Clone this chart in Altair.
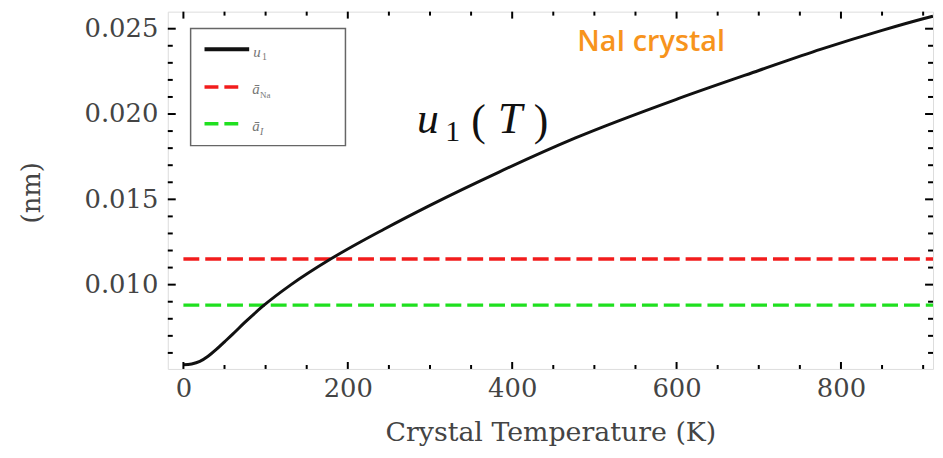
import altair as alt
import pandas as pd

# ---- data ----
temperature = [0, 10, 20, 30, 40, 50, 60, 75, 97, 131, 179, 244, 300, 384, 477, 602, 700, 776, 850, 900, 912]
u1_nm = [0.0053, 0.00535, 0.0055, 0.0058, 0.0062, 0.00665, 0.0071, 0.0078, 0.00875, 0.0100, 0.0115,
         0.01325, 0.01465, 0.0166, 0.0186, 0.0209, 0.02255, 0.0238, 0.0249, 0.02558, 0.02573]
ref_names = ["a_Na", "a_I"]
ref_values = [0.0115, 0.0088]
ref_colors = ["#f21c1c", "#1fe01f"]
ref_start = [0, 0]
ref_end = [912, 912]

x_major = [0, 200, 400, 600, 800]
x_minor = [50, 100, 150, 250, 300, 350, 450, 500, 550, 650, 700, 750, 850, 900]
y_major = [0.010, 0.015, 0.020, 0.025]
y_minor = [0.006, 0.007, 0.008, 0.009, 0.011, 0.012, 0.013, 0.014, 0.016, 0.017, 0.018,
           0.019, 0.021, 0.022, 0.023, 0.024]

W, H = 771, 360
SERIF = "DejaVu Serif"
LABEL_GREY = "#444444"

curve_df = pd.DataFrame({"T": temperature, "u": u1_nm})
ref_df = pd.DataFrame({"name": ref_names, "v": ref_values, "c": ref_colors,
                       "t0": ref_start, "t1": ref_end})

xscale = alt.Scale(domain=[-19, 912], nice=False, zero=False)
yscale = alt.Scale(domain=[0.00506, 0.026], nice=False, zero=False)

x_axis = alt.Axis(values=x_major, ticks=False, grid=False, domain=False,
                  labelFont=SERIF, labelFontSize=26, labelColor=LABEL_GREY, labelPadding=7,
                  title="Crystal Temperature (K)", titleFont=SERIF, titleFontSize=27,
                  titleFontWeight="normal", titleColor=LABEL_GREY,
                  titleX=W / 2, titleY=72, titleBaseline="alphabetic", titleAlign="center")
y_axis = alt.Axis(values=y_major, format=".3f", ticks=False, grid=False, domain=False,
                  labelFont=SERIF, labelFontSize=26, labelColor=LABEL_GREY, labelPadding=10,
                  title="(nm)", titleFont=SERIF, titleFontSize=26, titleFontWeight="normal",
                  titleColor=LABEL_GREY, titleAngle=270, titleX=-137, titleY=182,
                  titleBaseline="middle", titleAlign="center")

X = lambda f: alt.X(f, type="quantitative", scale=xscale, axis=x_axis)
Y = lambda f: alt.Y(f, type="quantitative", scale=yscale, axis=y_axis)

curve = alt.Chart(curve_df).mark_line(color="#111111", strokeWidth=3, interpolate="monotone",
                                      clip=True).encode(x=X("T"), y=Y("u"))

refs = alt.Chart(ref_df).mark_rule(strokeWidth=3.5, strokeDash=[16, 6], clip=True).encode(
    x=X("t0"), x2="t1", y=Y("v"),
    color=alt.Color("c:N", scale=None, legend=None))

def xticks(vals, size):
    d = pd.DataFrame({"t": vals})
    b = alt.Chart(d).mark_rule(color="black", strokeWidth=2).encode(
        x=X("t"), y=alt.value(H), y2=alt.value(H - size))
    t = alt.Chart(d).mark_rule(color="black", strokeWidth=2).encode(
        x=X("t"), y=alt.value(0), y2=alt.value(size))
    return [b, t]

def yticks(vals, size):
    d = pd.DataFrame({"v": vals})
    l = alt.Chart(d).mark_rule(color="black", strokeWidth=2).encode(
        y=Y("v"), x=alt.value(0), x2=alt.value(size))
    r = alt.Chart(d).mark_rule(color="black", strokeWidth=2).encode(
        y=Y("v"), x=alt.value(W), x2=alt.value(W - size))
    return [l, r]

tick_layers = xticks(x_major, 7) + xticks(x_minor, 4) + yticks(y_major, 8) + yticks(y_minor, 5)

one = pd.DataFrame({"k": [0]})
base = alt.Chart(one)

# legend box (manual, like the reference's framed legend)
leg_box = base.mark_rect(fill="white", stroke="#666666", strokeWidth=1.5).encode(
    x=alt.value(23), x2=alt.value(179), y=alt.value(17), y2=alt.value(135))
leg_black = base.mark_rule(color="#111111", strokeWidth=4).encode(
    x=alt.value(37), x2=alt.value(82), y=alt.value(38))
leg_red = base.mark_rule(color=ref_colors[0], strokeWidth=3.5, strokeDash=[14, 6]).encode(
    x=alt.value(37), x2=alt.value(73), y=alt.value(76))
leg_green = base.mark_rule(color=ref_colors[1], strokeWidth=3.5, strokeDash=[14, 6]).encode(
    x=alt.value(37), x2=alt.value(73), y=alt.value(113))

def txt(s, x, y, size, style="normal", color="#777777", font="Liberation Serif",
        weight="normal", align="left"):
    return base.mark_text(text=s, font=font, fontSize=size, fontStyle=style, color=color,
                          fontWeight=weight, align=align, baseline="alphabetic").encode(
        x=alt.value(x), y=alt.value(y))

leg_text = [
    txt("u", 86, 46, 15, "italic"), txt("1", 95, 49, 10),
    txt("ā", 85, 83, 15, "italic"), txt("Na", 93, 87, 9),
    txt("ā", 85, 120, 15, "italic"), txt("I", 93, 124, 10, "italic"),
]

ann = [
    txt("u", 262, 122, 44, "italic", "#111111", align="center"),
    txt("1", 287, 130, 30, "normal", "#111111", align="center"),
    txt("(", 313, 124, 44, "normal", "#111111", align="center"),
    txt("T", 345, 122, 44, "italic", "#111111", align="center"),
    txt(")", 376, 124, 44, "normal", "#111111", align="center"),
    txt("NaI crystal", 487, 40, 29, "normal", "#f7941d", font="Open Sans", weight=600,
        align="center"),
]

chart = alt.layer(refs, curve, *tick_layers, leg_box, leg_black, leg_red, leg_green,
                  *leg_text, *ann).properties(
    width=W, height=H,
    autosize=alt.AutoSizeParams(type="none"),
    padding={"left": 161, "top": 2, "right": 2, "bottom": 80},
).configure_view(stroke="black", strokeWidth=2.5).configure(background="white")

chart.save("out.html", embed_options={"renderer": "svg", "actions": False})
